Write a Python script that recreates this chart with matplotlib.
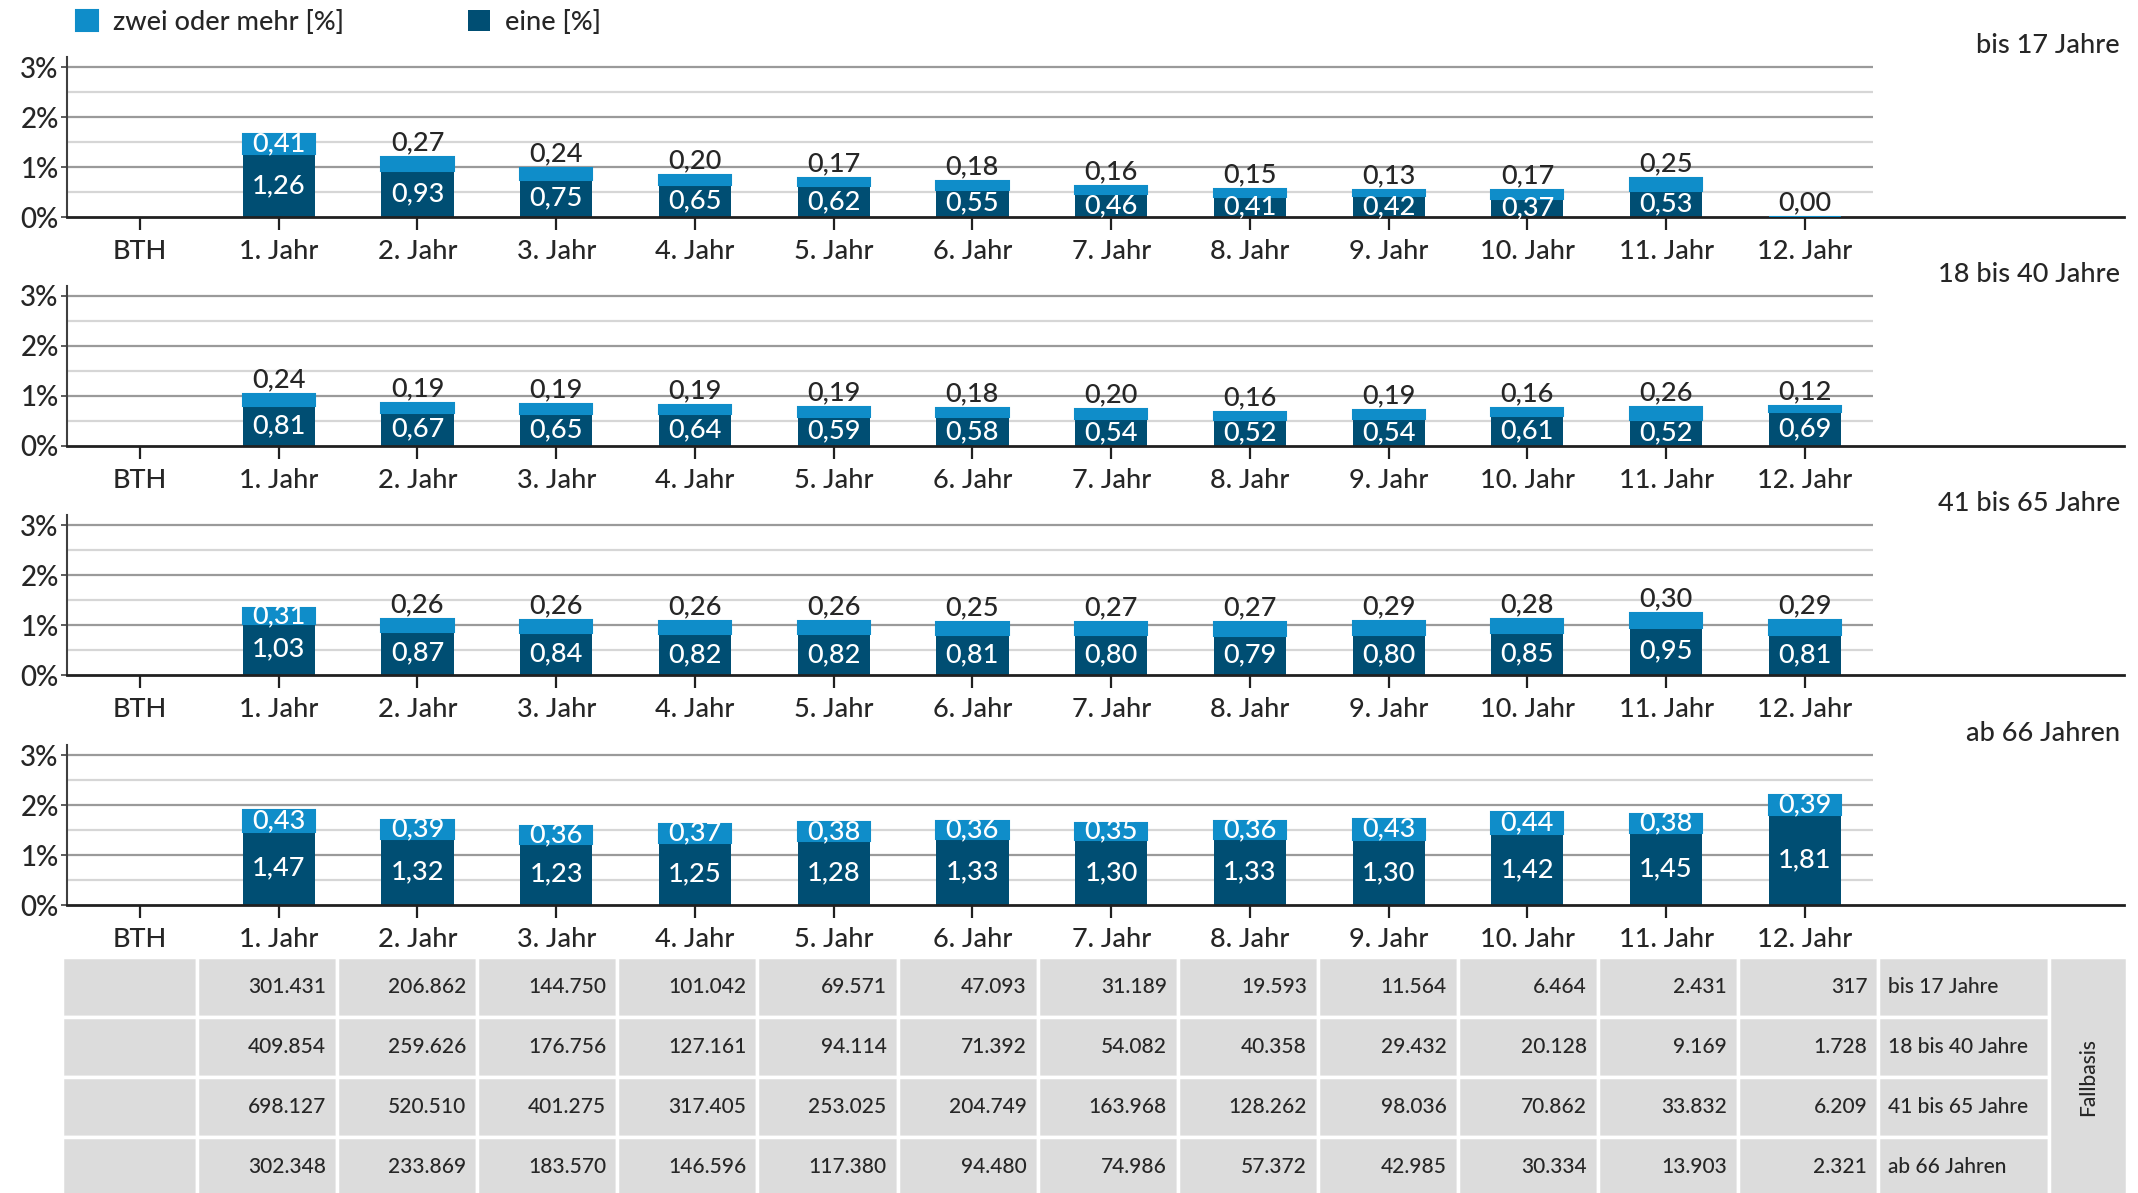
import matplotlib
matplotlib.use('Agg')
import matplotlib.pyplot as plt
from matplotlib.patches import Rectangle

plt.rcParams['font.family'] = ['Lato', 'DejaVu Sans']
plt.rcParams['font.weight'] = 'medium'

# ---- data ----
categories = ['BTH', '1. Jahr', '2. Jahr', '3. Jahr', '4. Jahr', '5. Jahr', '6. Jahr',
              '7. Jahr', '8. Jahr', '9. Jahr', '10. Jahr', '11. Jahr', '12. Jahr']
groups = ['bis 17 Jahre', '18 bis 40 Jahre', '41 bis 65 Jahre', 'ab 66 Jahren']

# values for 1. Jahr .. 12. Jahr (BTH has no bar)
eine_bis17 = [1.26, 0.93, 0.75, 0.65, 0.62, 0.55, 0.46, 0.41, 0.42, 0.37, 0.53, 0.00]
zwei_bis17 = [0.41, 0.27, 0.24, 0.20, 0.17, 0.18, 0.16, 0.15, 0.13, 0.17, 0.25, 0.00]
eine_18_40 = [0.81, 0.67, 0.65, 0.64, 0.59, 0.58, 0.54, 0.52, 0.54, 0.61, 0.52, 0.69]
zwei_18_40 = [0.24, 0.19, 0.19, 0.19, 0.19, 0.18, 0.20, 0.16, 0.19, 0.16, 0.26, 0.12]
eine_41_65 = [1.03, 0.87, 0.84, 0.82, 0.82, 0.81, 0.80, 0.79, 0.80, 0.85, 0.95, 0.81]
zwei_41_65 = [0.31, 0.26, 0.26, 0.26, 0.26, 0.25, 0.27, 0.27, 0.29, 0.28, 0.30, 0.29]
eine_ab66 = [1.47, 1.32, 1.23, 1.25, 1.28, 1.33, 1.30, 1.33, 1.30, 1.42, 1.45, 1.81]
zwei_ab66 = [0.43, 0.39, 0.36, 0.37, 0.38, 0.36, 0.35, 0.36, 0.43, 0.44, 0.38, 0.39]

# Fallbasis (case counts) per year
n_bis17 = [301431, 206862, 144750, 101042, 69571, 47093, 31189, 19593, 11564, 6464, 2431, 317]
n_18_40 = [409854, 259626, 176756, 127161, 94114, 71392, 54082, 40358, 29432, 20128, 9169, 1728]
n_41_65 = [698127, 520510, 401275, 317405, 253025, 204749, 163968, 128262, 98036, 70862, 33832, 6209]
n_ab66 = [302348, 233869, 183570, 146596, 117380, 94480, 74986, 57372, 42985, 30334, 13903, 2321]

eine_all = [eine_bis17, eine_18_40, eine_41_65, eine_ab66]
zwei_all = [zwei_bis17, zwei_18_40, zwei_41_65, zwei_ab66]
n_all = [n_bis17, n_18_40, n_41_65, n_ab66]

# ---- style ----
LIGHT = '#0F8DC9'
DARK = '#004E73'
TXT = '#262626'
W, H = 2138, 1193
FS = 19.5


def de(v):
    return f'{v:.2f}'.replace('.', ',')


def de_int(v):
    return f'{v:,}'.replace(',', '.')


fig = plt.figure(figsize=(W / 100, H / 100), dpi=100)

xlim = (-0.526, 14.3)
ax_left = 67 / W
ax_width = (2124 - 67) / W
zero_px = [217, 446, 675, 905]
x_years = list(range(1, 13))

handles = None
for k, grp in enumerate(groups):
    ax = fig.add_axes([ax_left, 1 - zero_px[k] / H, ax_width, 160 / H])
    ax.set_xlim(*xlim)
    ax.set_ylim(0, 3.2)

    # grid (only up to the last category)
    ax.hlines([0.5, 1.5, 2.5], xlim[0], 12.49, color='#D6D6D6', lw=1.6, zorder=0)
    ax.hlines([1, 2, 3], xlim[0], 12.49, color='#9A9A9A', lw=1.6, zorder=0)

    eine = eine_all[k]
    zwei = zwei_all[k]
    b1 = ax.bar(x_years, eine, width=0.52, color=DARK, lw=0, zorder=2)
    b2 = ax.bar(x_years, zwei, bottom=eine, width=0.52, color=LIGHT,
                edgecolor=LIGHT, lw=1.5, zorder=2.6)
    if handles is None:
        handles = [b2, b1]

    for x, e, z in zip(x_years, eine, zwei):
        if e > 0:
            ax.text(x, e / 2, de(e), ha='center', va='center', color='white',
                    fontsize=FS, zorder=3)
        if z > 0.30:
            ax.text(x, e + z / 2, de(z), ha='center', va='center', color='white',
                    fontsize=FS, zorder=3)
        else:
            ax.annotate(de(z), (x, e + z), xytext=(0, 1), textcoords='offset points',
                        ha='center', va='bottom', color=TXT, fontsize=FS, zorder=3)

    for s in ['top', 'right']:
        ax.spines[s].set_visible(False)
    ax.spines['left'].set_color('#404040')
    ax.spines['left'].set_linewidth(1.5)
    ax.spines['bottom'].set_color('#202020')
    ax.spines['bottom'].set_linewidth(2)

    ax.set_yticks([0, 1, 2, 3])
    ax.set_yticklabels(['0%', '1%', '2%', '3%'])
    ax.tick_params(axis='y', length=4, width=1.2, color='#404040', pad=2,
                   labelsize=FS + 0.5, labelcolor=TXT)
    ax.set_xticks(range(len(categories)))
    ax.set_xticklabels(categories)
    ax.tick_params(axis='x', length=9, width=1.6, color='#202020', pad=7,
                   labelsize=FS, labelcolor=TXT)

    ax.text(0.998, 1.07, grp, transform=ax.transAxes, ha='right', va='center',
            fontsize=FS, color=TXT)

# ---- legend ----
fig.legend(handles, ['zwei oder mehr [%]', 'eine [%]'], loc='upper left',
           bbox_to_anchor=(76 / W, 1 - 10 / H), ncol=2, frameon=False, fontsize=19.5,
           handlelength=0.8, handleheight=0.8, handletextpad=0.55,
           columnspacing=4.6, borderpad=0, borderaxespad=0, labelcolor=TXT)

# ---- table (Fallbasis) ----
tab_top = 957
row_h = 60
tab = fig.add_axes([ax_left, 0, ax_width, (H - tab_top) / H])
tab.set_xlim(*xlim)
tab.set_ylim((H - tab_top) / row_h, 0)
tab.axis('off')

edges = [-0.56] + [0.41 + 1.01 * c for c in range(13)] + [13.76, 14.32]
CELL = '#DCDCDC'
for r in range(4):
    for c in range(14):
        tab.add_patch(Rectangle((edges[c], r), edges[c + 1] - edges[c], 1,
                                facecolor=CELL, edgecolor='white', lw=2.5, clip_on=False))
    for c, v in enumerate(n_all[r]):
        tab.text(edges[c + 2] - 0.08, r + 0.5, de_int(v), ha='right', va='center',
                 fontsize=15, color=TXT)
    tab.text(edges[13] + 0.07, r + 0.5, groups[r], ha='left', va='center',
             fontsize=15, color=TXT)
tab.add_patch(Rectangle((edges[14], 0), edges[15] - edges[14], 4,
                        facecolor=CELL, edgecolor='white', lw=2.5, clip_on=False))
tab.text((edges[14] + edges[15]) / 2, 2.0, 'Fallbasis', rotation=90, ha='center',
         va='center', fontsize=15, color=TXT)

plt.savefig('out.png', dpi=100)
